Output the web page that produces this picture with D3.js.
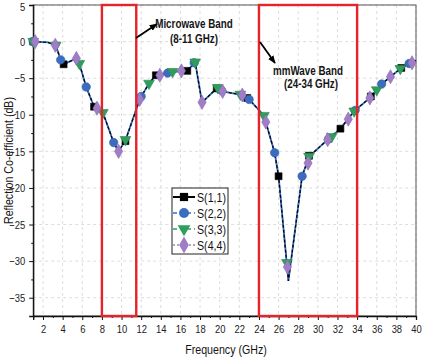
<!DOCTYPE html>
<html>
<head>
<meta charset="utf-8">
<script src="https://cdn.jsdelivr.net/npm/d3@7"></script>
<style>
  body { margin: 0; background: #fff; }
  text { font-family: 'Liberation Sans', Arial, sans-serif; }
</style>
</head>
<body>
<div id="chart"></div>
<script>
// shared response curve (all four ports nearly identical)
const curveFreq = [1, 2.5, 3.3, 3.8, 4.1, 5.4, 5.7, 6.4, 7.2, 7.5, 8.1, 9.2, 9.7, 10.4, 11.85, 12.8, 13.5, 14.7, 16.1, 16.7, 17.5, 18.2, 19.7, 20.3, 22.3, 23.0, 24.5, 25.6, 26.0, 27.0, 28.4, 29.1, 31.0, 32.3, 33.7, 35.3, 36.5, 37.4, 38.5, 39.3, 40]
const curveVal = [0, -0.1, -0.5, -2.5, -3.1, -2.3, -3.0, -6.2, -8.9, -9.1, -9.7, -13.8, -15.0, -13.5, -7.9, -5.7, -4.6, -4.3, -4.0, -4.0, -2.8, -8.3, -6.4, -6.8, -7.3, -7.9, -10.1, -15.2, -18.4, -32.7, -18.4, -15.7, -13.4, -11.9, -9.5, -7.7, -5.8, -4.8, -3.6, -3.0, -2.6]

// marker points per series
const s11Freq = [1.0, 4.1, 7.2, 10.4, 13.5, 16.7, 19.7, 22.8, 26.0, 29.1, 32.3, 35.4, 38.5]
const s11Val = [0, -3.1, -8.9, -13.6, -4.6, -4.0, -6.4, -7.7, -18.4, -15.6, -11.9, -7.5, -3.6]
const s22Freq = [1.0, 3.8, 6.4, 9.2, 12.0, 14.7, 17.4, 20.2, 23.0, 25.6, 28.4, 31.1, 33.8, 36.5, 39.3]
const s22Val = [0, -2.5, -6.2, -13.8, -7.5, -4.3, -2.9, -6.7, -7.9, -15.2, -18.4, -13.3, -9.4, -5.8, -3.0]
const s33Freq = [1.0, 3.3, 5.7, 8.1, 10.4, 12.8, 15.2, 17.5, 19.8, 22.1, 24.5, 26.85, 29.1, 31.4, 33.7, 36.0, 38.4]
const s33Val = [0, -0.5, -3.0, -9.7, -13.4, -5.7, -4.1, -2.8, -6.3, -7.2, -10.1, -30.2, -15.7, -13.0, -9.5, -6.6, -3.7]
const s44Freq = [1.2, 3.25, 5.4, 7.5, 9.7, 11.85, 13.9, 16.1, 18.2, 20.3, 22.3, 24.7, 26.9, 29.0, 31.0, 33.1, 35.3, 37.4, 39.6]
const s44Val = [0, -0.5, -2.3, -9.1, -15.0, -7.9, -4.6, -4.0, -8.3, -6.8, -7.3, -11.0, -30.8, -16.6, -13.4, -10.6, -7.7, -4.8, -2.9]

const seriesNames = ['S(1,1)', 'S(2,2)', 'S(3,3)', 'S(4,4)']
const bands = [[8, 11.5], [24, 34]]
const xTicks = d3.range(2, 41, 2)
const yTicks = [5, 0, -5, -10, -15, -20, -25, -30, -35]

const svgWidth = 423
const svgHeight = 357
const squeeze = 0.82 // the reference text is horizontally condensed

const svg = d3.select('#chart').append('svg')
    .attr('width', svgWidth)
    .attr('height', svgHeight)

const xScale = d3.scaleLinear().domain([1, 40]).range([33.2, 416])
const yScale = d3.scaleLinear().domain([-37.5, 5]).range([316, 5])

const series = [
    { name: seriesNames[0], freq: s11Freq, val: s11Val, color: '#000000', shape: d3.symbolSquare, size: 48, dash: '3,2', width: 1.2, rot: 0 },
    { name: seriesNames[1], freq: s22Freq, val: s22Val, color: '#3a6cc0', shape: d3.symbolCircle, size: 56, dash: '6,2', width: 1.5, rot: 0 },
    { name: seriesNames[2], freq: s33Freq, val: s33Val, color: '#2f9e5c', shape: d3.symbolTriangle, size: 50, dash: '4,3', width: 1.3, rot: 180 },
    { name: seriesNames[3], freq: s44Freq, val: s44Val, color: '#a17dc8', shape: d3.symbolDiamond, size: 58, dash: '1,2', width: 1.2, rot: 0 }
]

// condensed label helper
function label (x, y, txt, size, opts) {
    opts = opts || {}
    let g = svg.append('g')
        .attr('transform', 'translate(' + x + ',' + y + ')' + (opts.rotate ? ' rotate(' + opts.rotate + ')' : '') + ' scale(' + squeeze + ',1)')
    g.append('text')
        .attr('text-anchor', opts.anchor || 'middle')
        .attr('font-size', size)
        .attr('font-weight', opts.bold ? 'bold' : null)
        .attr('fill', '#151515')
        .text(txt)
    return g
}

// grid
const grid = svg.append('g').attr('class', 'grid')
grid.selectAll('.gx').data(xTicks).enter().append('line')
    .attr('x1', d => xScale(d)).attr('x2', d => xScale(d))
    .attr('y1', yScale(5)).attr('y2', yScale(-37.5))
    .attr('stroke', '#d4d4d4').attr('stroke-dasharray', '3,3').attr('stroke-width', 0.8)
grid.selectAll('.gy').data(yTicks).enter().append('line')
    .attr('x1', xScale(1)).attr('x2', xScale(40))
    .attr('y1', d => yScale(d)).attr('y2', d => yScale(d))
    .attr('stroke', '#d4d4d4').attr('stroke-dasharray', '3,3').attr('stroke-width', 0.8)

// frame
svg.append('rect')
    .attr('x', xScale(1)).attr('y', yScale(5))
    .attr('width', xScale(40) - xScale(1)).attr('height', yScale(-37.5) - yScale(5))
    .attr('fill', 'none').attr('stroke', '#555').attr('stroke-width', 1)

// axes
const xAxis = d3.axisBottom(xScale).tickValues(xTicks).tickSize(4).tickPadding(5)
const yAxis = d3.axisLeft(yScale).tickValues(yTicks).tickSize(4).tickPadding(4)
    .tickFormat(d => d < 0 ? '\u2212' + Math.abs(d) : d)

svg.append('g')
    .attr('transform', 'translate(0,' + yScale(-37.5) + ')')
    .call(xAxis)
svg.append('g')
    .attr('transform', 'translate(0,' + yScale(-37.5) + ')')
    .call(d3.axisBottom(xScale).tickValues(d3.range(1, 40, 2)).tickSize(2).tickFormat(''))
    .select('.domain').remove()

const gy = svg.append('g')
    .attr('transform', 'translate(' + xScale(1) + ',0)')
    .call(yAxis)
svg.append('g')
    .attr('transform', 'translate(' + xScale(1) + ',0)')
    .call(d3.axisLeft(yScale).tickValues(d3.range(-35, 5, 5).map(d => d + 2.5)).tickSize(2).tickFormat(''))
    .select('.domain').remove()

svg.selectAll('.domain').attr('stroke', '#111').attr('stroke-width', 1.3)
svg.selectAll('.tick line').attr('stroke', '#111')
svg.selectAll('.tick text').attr('font-size', 11.5).attr('fill', '#222')
    .style('font-family', "'Liberation Sans', Arial, sans-serif")
    .attr('transform', 'scale(' + squeeze + ',1)')
    .attr('x', function () {
        return +d3.select(this).attr('x') / squeeze
    })
// keep the top "5" inside the window
gy.selectAll('.tick').filter(d => d === 5).select('text').attr('dy', '0.45em')

// axis titles
label(226, 354, 'Frequency (GHz)', 13)
label(13, (yScale(5) + yScale(-37.5)) / 2, 'Reflection Co-efficient (dB)', 13, { rotate: -90 })

// lines
const line = d3.line()
    .x(function (d) {
        return xScale(d[0])
    })
    .y(function (d) {
        return yScale(d[1])
    })
const curve = curveFreq.map((f, i) => [f, curveVal[i]])

const lineOrder = [2, 3, 1, 0]
lineOrder.forEach(function (k) {
    const s = series[k]
    svg.append('path')
        .attr('d', line(curve))
        .attr('fill', 'none')
        .attr('stroke', s.color)
        .attr('stroke-width', k === 1 ? 1.8 : s.width)
        .attr('stroke-dasharray', k === 1 ? null : s.dash)
})

// markers
series.forEach(function (s) {
    const pts = s.freq.map((f, i) => [f, s.val[i]])
    svg.append('g').selectAll('path').data(pts).enter().append('path')
        .attr('d', d3.symbol().type(s.shape).size(s.size))
        .attr('transform', d => 'translate(' + xScale(d[0]) + ',' + yScale(d[1]) + ') rotate(' + s.rot + ')')
        .attr('fill', s.color)
        .attr('stroke', s.color === '#000000' ? '#000' : d3.color(s.color).darker(0.4))
        .attr('stroke-width', 0.6)
})

// band boxes
svg.selectAll('.band').data(bands).enter().append('rect')
    .attr('x', d => xScale(d[0]))
    .attr('y', yScale(5))
    .attr('width', d => xScale(d[1]) - xScale(d[0]))
    .attr('height', yScale(-37.5) - yScale(5))
    .attr('fill', 'none')
    .attr('stroke', '#e4232b')
    .attr('stroke-width', 2.4)

// annotations
const defs = svg.append('defs')
defs.append('marker')
    .attr('id', 'arrowHead')
    .attr('viewBox', '0 0 10 10')
    .attr('refX', 9).attr('refY', 5)
    .attr('markerWidth', 4.5).attr('markerHeight', 4.5)
    .attr('orient', 'auto')
    .append('path').attr('d', 'M0,1 L10,5 L0,9 Z').attr('fill', '#000')

svg.append('line')
    .attr('x1', 136).attr('y1', 38).attr('x2', 157).attr('y2', 24)
    .attr('stroke', '#000').attr('stroke-width', 1.8)
    .attr('marker-end', 'url(#arrowHead)')
svg.append('line')
    .attr('x1', 260).attr('y1', 42).attr('x2', 275).attr('y2', 63)
    .attr('stroke', '#000').attr('stroke-width', 1.8)
    .attr('marker-end', 'url(#arrowHead)')

label(194, 28, 'Microwave Band', 12, { bold: true })
label(194, 43, '(8-11 GHz)', 12, { bold: true })
label(308, 75, 'mmWave Band', 12, { bold: true })
label(311, 88, '(24-34 GHz)', 12, { bold: true })

// legend
const legend = svg.append('g').attr('transform', 'translate(172,188)')
legend.append('rect')
    .attr('width', 56).attr('height', 66)
    .attr('fill', '#fff').attr('stroke', '#222').attr('stroke-width', 1)
series.forEach(function (s, i) {
    const ly = 9 + i * 16
    legend.append('line')
        .attr('x1', 1).attr('x2', 23).attr('y1', ly).attr('y2', ly)
        .attr('stroke', s.color).attr('stroke-width', i === 0 ? 2 : 1.5)
        .attr('stroke-dasharray', i === 0 ? null : (i === 3 ? '2,2' : '4,3'))
    legend.append('path')
        .attr('d', d3.symbol().type(s.shape).size(s.size * 1.4))
        .attr('transform', 'translate(12,' + ly + ') rotate(' + s.rot + ')')
        .attr('fill', s.color)
    legend.append('g')
        .attr('transform', 'translate(25,' + (ly + 4.5) + ') scale(' + squeeze + ',1)')
        .append('text')
        .attr('font-size', 13).attr('fill', '#111')
        .text(s.name)
})
</script>
</body>
</html>
